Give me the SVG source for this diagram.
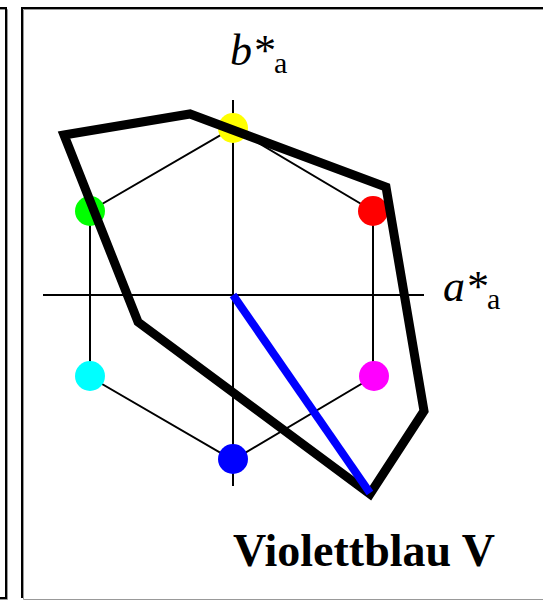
<svg xmlns="http://www.w3.org/2000/svg" width="543" height="601" viewBox="0 0 543 601">
<style>
.frame{fill:none;stroke:#000;stroke-width:2}
.shadow{fill:none;stroke:#999;stroke-width:1}
.hex{fill:none;stroke:#000;stroke-width:2}
.axis{stroke:#000;stroke-width:2}
.lbl{font-family:"Liberation Serif",serif;fill:#000}
</style>
<rect width="543" height="601" fill="#fff"/>
<g id="frames">
<polyline class="shadow" points="0,9.5 7.5,9.5 7.5,599.5 0,599.5"/>
<polyline class="frame" points="0,8 6,8 6,598 0,598"/>
<polyline class="shadow" points="543,9.5 23.5,9.5 23.5,599.5 543,599.5"/>
<polyline class="frame" points="543,8 22,8 22,598"/>
</g>
<g id="axes">
<line class="axis" x1="43" y1="295" x2="424" y2="295"/>
<line class="axis" x1="233" y1="100" x2="233" y2="486"/>
</g>
<g id="hexagon">
<polygon class="hex" points="233,128 373,211 373,377 233,460 90,377 90,211"/>
</g>
<g id="dots">
<circle id="yellow" cx="233" cy="128" r="15" fill="#ffff00"/>
<circle id="red" cx="373" cy="211" r="15" fill="#ff0000"/>
<circle id="magenta" cx="374" cy="376" r="15" fill="#ff00ff"/>
<circle id="blue" cx="233" cy="459" r="15" fill="#0000ff"/>
<circle id="cyan" cx="90" cy="376" r="15" fill="#00ffff"/>
<circle id="green" cx="90" cy="211" r="15" fill="#00ff00"/>
</g>
<g id="connectors">
<polygon points="64,135 190,114 386,187 424,411 370,494 138,322" fill="none" stroke="#000" stroke-width="9" stroke-linejoin="miter"/>
<line x1="233" y1="295" x2="370" y2="493" stroke="#0000ff" stroke-width="8"/>
</g>
<g id="labels">
<text class="lbl" x="230" y="65" font-size="44" font-style="italic">b*<tspan font-style="normal" font-size="30" dy="8">a</tspan></text>
<text class="lbl" x="443" y="301" font-size="44" font-style="italic">a*<tspan font-style="normal" font-size="30" dy="8">a</tspan></text>
<text class="lbl" x="233" y="566" font-size="46" font-weight="bold">Violettblau V</text>
</g>
</svg>
